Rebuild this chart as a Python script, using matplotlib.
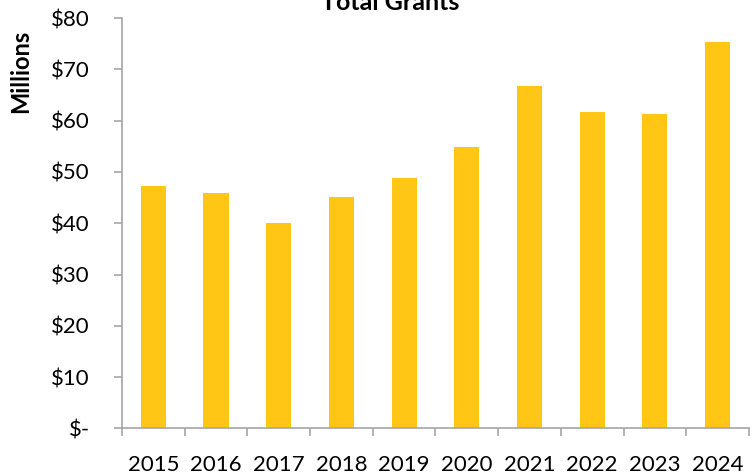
import numpy as np
import matplotlib.pyplot as plt
from matplotlib.ticker import FixedLocator, FuncFormatter

years = ['2015', '2016', '2017', '2018', '2019', '2020', '2021', '2022', '2023', '2024']
grants = [47.3, 45.8, 40.1, 45.1, 48.8, 54.9, 66.8, 61.6, 61.3, 75.3]  # $ millions

plt.rcParams['font.family'] = ['Lato', 'DejaVu Sans']

fig = plt.figure(figsize=(7.52, 4.74), dpi=100)
ax = fig.add_axes([0.1622, 0.096, 0.8338, 0.866])

x = np.arange(len(years))
ax.bar(x, grants, width=0.4, color='#FFC616', zorder=2)

ax.set_xlim(-0.5, len(years) - 0.5)
ax.set_ylim(0, 80)

def money(v, pos):
    return '$-' if v == 0 else '${:.0f}'.format(v)

ax.yaxis.set_major_locator(FixedLocator(np.arange(0, 81, 10)))
ax.yaxis.set_major_formatter(FuncFormatter(money))

# tick marks sit between the years, labels centred under the bars
ax.xaxis.set_major_locator(FixedLocator(np.arange(-0.5, len(years), 1.0)))
ax.xaxis.set_major_formatter(FuncFormatter(lambda v, p: ''))
ax.xaxis.set_minor_locator(FixedLocator(x))
ax.set_xticklabels(years, minor=True)

ax.tick_params(axis='y', which='major', length=6, width=1.2, color='#a6a6a6',
               labelsize=16, pad=17)
ax.tick_params(axis='x', which='major', length=6, width=1.2, color='#a6a6a6')
ax.tick_params(axis='x', which='minor', length=0, labelsize=16, pad=19)

for side in ['top', 'right']:
    ax.spines[side].set_visible(False)
for side in ['left', 'bottom']:
    ax.spines[side].set_color('#a6a6a6')
    ax.spines[side].set_linewidth(1.2)

fig.text(0.027, 0.85, 'Millions', rotation=90, ha='center', va='center',
         fontsize=17, fontweight='bold')
fig.text(0.519, 0.979, 'Total Grants', ha='center', va='baseline',
         fontsize=18, fontweight='bold')

fig.savefig('out.png', dpi=100)
